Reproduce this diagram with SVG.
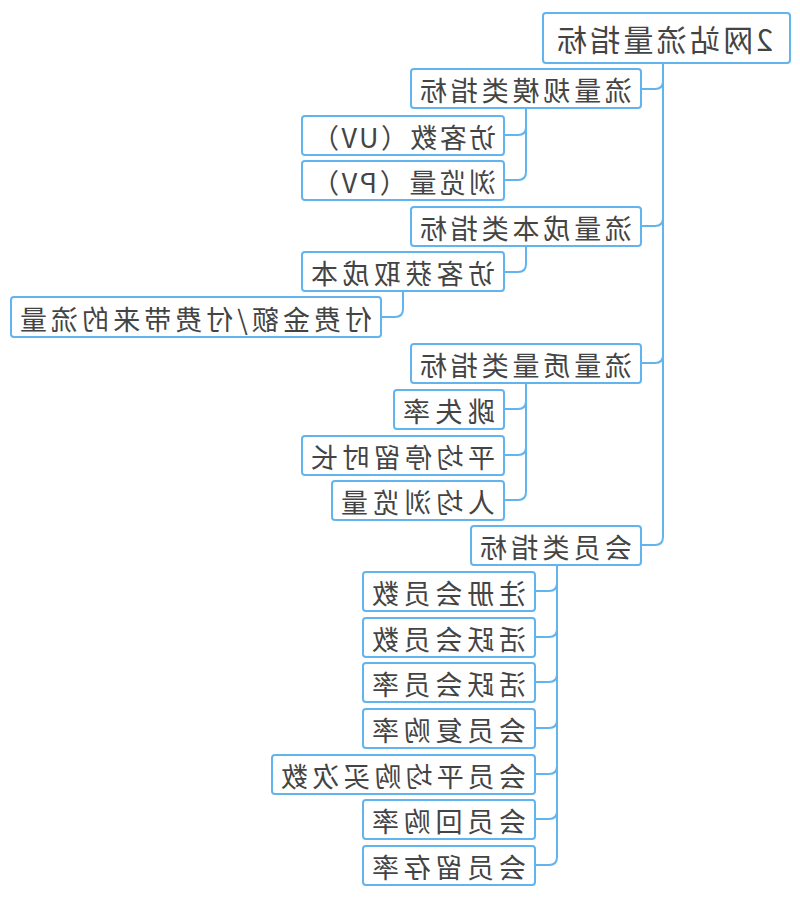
<svg xmlns="http://www.w3.org/2000/svg" width="800" height="898" viewBox="0 0 800 898">
<style>
.box{fill:#ffffff;stroke:#62B4EE;stroke-width:2;}
.t{font-family:"Noto Sans CJK SC","Noto Sans",sans-serif;font-size:27px;fill:#444444;dominant-baseline:central;}
.root{font-size:30px;}
.c{fill:none;stroke:#62B4EE;stroke-width:2;stroke-linecap:round;}
</style>
<rect width="800" height="898" fill="#ffffff"/>
<g transform="matrix(-1 0 0 1 800 0)">
<g id="connectors">
<path class="c" d="M137,63 V81 Q137,89 145,89 H159"/>
<path class="c" d="M137,63 V218 Q137,226 145,226 H159"/>
<path class="c" d="M137,63 V355 Q137,363 145,363 H159"/>
<path class="c" d="M137,63 V537 Q137,545 145,545 H159"/>
<path class="c" d="M274,108 V127 Q274,135 282,135 H296"/>
<path class="c" d="M274,108 V172 Q274,180 282,180 H296"/>
<path class="c" d="M274,246 V264 Q274,272 282,272 H296"/>
<path class="c" d="M397,291 V309 Q397,317 405,317 H419"/>
<path class="c" d="M274,383 V401 Q274,409 282,409 H296"/>
<path class="c" d="M274,383 V447 Q274,455 282,455 H296"/>
<path class="c" d="M274,383 V492 Q274,500 282,500 H296"/>
<path class="c" d="M243,565 V583 Q243,591 251,591 H265"/>
<path class="c" d="M243,565 V629 Q243,637 251,637 H265"/>
<path class="c" d="M243,565 V674 Q243,682 251,682 H265"/>
<path class="c" d="M243,565 V720 Q243,728 251,728 H265"/>
<path class="c" d="M243,565 V766 Q243,774 251,774 H265"/>
<path class="c" d="M243,565 V811 Q243,819 251,819 H265"/>
<path class="c" d="M243,565 V857 Q243,865 251,865 H265"/>
</g>
<g id="root"><rect class="box" x="10" y="13" width="247" height="50" rx="3"/><text class="t root" x="27" y="38" textLength="216" lengthAdjust="spacing">2网站流量指标</text></g>
<g id="n1"><rect class="box" x="159" y="69" width="230" height="39" rx="3"/><text class="t" x="168" y="89" textLength="212" lengthAdjust="spacing">流量规模类指标</text></g>
<g id="n1a"><rect class="box" x="296" y="116" width="202" height="39" rx="3"/><text class="t" x="304" y="136" textLength="184" lengthAdjust="spacing">访客数（UV）</text></g>
<g id="n1b"><rect class="box" x="296" y="161" width="202" height="39" rx="3"/><text class="t" x="304" y="181" textLength="184" lengthAdjust="spacing">浏览量（PV）</text></g>
<g id="n2"><rect class="box" x="159" y="207" width="230" height="39" rx="3"/><text class="t" x="168" y="227" textLength="212" lengthAdjust="spacing">流量成本类指标</text></g>
<g id="n2a"><rect class="box" x="296" y="252" width="202" height="39" rx="3"/><text class="t" x="305" y="272" textLength="184" lengthAdjust="spacing">访客获取成本</text></g>
<g id="n2a1"><rect class="box" x="419" y="297" width="370" height="40" rx="3"/><text class="t" x="428" y="318" textLength="352" lengthAdjust="spacing">付费金额/付费带来的流量</text></g>
<g id="n3"><rect class="box" x="159" y="344" width="230" height="39" rx="3"/><text class="t" x="168" y="364" textLength="212" lengthAdjust="spacing">流量质量类指标</text></g>
<g id="n3a"><rect class="box" x="296" y="390" width="110" height="39" rx="3"/><text class="t" x="305" y="410" textLength="92" lengthAdjust="spacing">跳失率</text></g>
<g id="n3b"><rect class="box" x="296" y="436" width="202" height="39" rx="3"/><text class="t" x="305" y="456" textLength="184" lengthAdjust="spacing">平均停留时长</text></g>
<g id="n3c"><rect class="box" x="296" y="481" width="172" height="39" rx="3"/><text class="t" x="305" y="501" textLength="154" lengthAdjust="spacing">人均浏览量</text></g>
<g id="n4"><rect class="box" x="159" y="526" width="170" height="39" rx="3"/><text class="t" x="168" y="546" textLength="152" lengthAdjust="spacing">会员类指标</text></g>
<g id="n4a"><rect class="box" x="265" y="572" width="172" height="39" rx="3"/><text class="t" x="274" y="592" textLength="154" lengthAdjust="spacing">注册会员数</text></g>
<g id="n4b"><rect class="box" x="265" y="618" width="172" height="39" rx="3"/><text class="t" x="274" y="638" textLength="154" lengthAdjust="spacing">活跃会员数</text></g>
<g id="n4c"><rect class="box" x="265" y="663" width="172" height="39" rx="3"/><text class="t" x="274" y="683" textLength="154" lengthAdjust="spacing">活跃会员率</text></g>
<g id="n4d"><rect class="box" x="265" y="709" width="172" height="39" rx="3"/><text class="t" x="274" y="729" textLength="154" lengthAdjust="spacing">会员复购率</text></g>
<g id="n4e"><rect class="box" x="265" y="755" width="263" height="39" rx="3"/><text class="t" x="274" y="775" textLength="245" lengthAdjust="spacing">会员平均购买次数</text></g>
<g id="n4f"><rect class="box" x="265" y="800" width="172" height="39" rx="3"/><text class="t" x="274" y="820" textLength="154" lengthAdjust="spacing">会员回购率</text></g>
<g id="n4g"><rect class="box" x="265" y="846" width="172" height="39" rx="3"/><text class="t" x="274" y="866" textLength="154" lengthAdjust="spacing">会员留存率</text></g>
</g>
</svg>
